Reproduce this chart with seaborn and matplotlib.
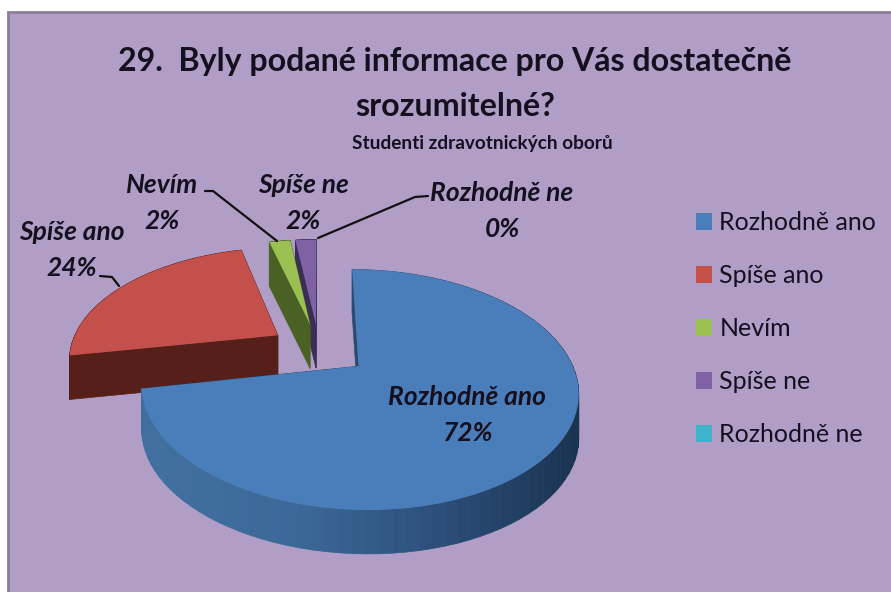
import numpy as np
import matplotlib
matplotlib.use("Agg")
import matplotlib.pyplot as plt
from matplotlib.collections import PolyCollection
from matplotlib.patches import Rectangle
from matplotlib.transforms import Transform
import seaborn as sns

# Chart data
categories = ["Rozhodně ano", "Spíše ano", "Nevím", "Spíše ne", "Rozhodně ne"]
values = [72, 24, 2, 2, 0]
title_text = "29.  Byly podané informace pro Vás dostatečně\nsrozumitelné?"
subtitle_text = "Studenti zdravotnických oborů"

top_colors = ["#4a7ebb", "#c4504c", "#9bc052", "#7f62a6", "#3eb3c9"]
side_colors = ["#2a4a70", "#571f1a", "#4a6125", "#3c2d55", "#1f5a66"]
draw_order = [3, 2, 1, 0, 4]

BG = "#b09ec6"
CX, CY, RX, RY, K, DEPTH = 319, 349, 208, 109, 0.19, 44

sns.set_theme(style="white")
plt.rcParams["font.family"] = ["Lato", "DejaVu Sans"]


def project(u, v):
    # tilted pie plane to pixels, with a little perspective
    w = 1 + K * v
    return CX + RX * u / w, CY - RY * v / w


class Tilt(Transform):
    input_dims = 2
    output_dims = 2
    is_separable = False
    has_inverse = False

    def transform_non_affine(self, values):
        x, y = project(values[:, 0], values[:, 1])
        return np.column_stack([x, y])


rim_cmap = sns.blend_palette(["#41709f", "#3b6898", "#2b4e78", "#19324f"], as_cmap=True)

fig = plt.figure(figsize=(8.91, 5.92), dpi=100, facecolor="white")
ax = fig.add_axes([0, 0, 1, 1])

wedges, _ = ax.pie(values, explode=[0.24] * len(values), startangle=90,
                   counterclock=False, colors=top_colors,
                   wedgeprops={"linewidth": 0})
ax.set_aspect("auto")
ax.set_xlim(0, 891)
ax.set_ylim(592, 0)
ax.axis("off")

# background panel
ax.add_patch(Rectangle((8, 12), 890, 590, facecolor=BG, edgecolor="#8b7e99",
                       linewidth=2, zorder=0))

tilt = Tilt() + ax.transData
for rank, i in enumerate(draw_order):
    wedge = wedges[i]
    wedge.set_transform(tilt)
    wedge.set_zorder(2 + 2 * rank + 1)
    if values[i] == 0:
        continue
    cu, cv = wedge.center
    th = np.radians(np.linspace(wedge.theta1, wedge.theta2, 90))
    x, y = project(cu + wedge.r * np.cos(th), cv + wedge.r * np.sin(th))
    ax0, ay0 = project(cu, cv)
    quads, cols = [], []
    # the two cut faces
    for px, py in [(x[0], y[0]), (x[-1], y[-1])]:
        quads.append([(ax0, ay0), (px, py), (px, py + DEPTH), (ax0, ay0 + DEPTH)])
        cols.append(side_colors[i])
    # outer rim
    for j in range(len(th) - 1):
        quads.append([(x[j], y[j]), (x[j + 1], y[j + 1]),
                      (x[j + 1], y[j + 1] + DEPTH), (x[j], y[j] + DEPTH)])
        if i == 0:
            cols.append(rim_cmap((x[j] - 148) / 432))
        else:
            cols.append(side_colors[i])
    order = np.argsort([np.mean([p[1] for p in q]) for q in quads])
    side = PolyCollection([quads[n] for n in order],
                          facecolors=[cols[n] for n in order],
                          edgecolors=[cols[n] for n in order],
                          linewidths=0.5, zorder=2 + 2 * rank)
    ax.add_collection(side)

# titles
text_col = "#14101f"
ax.text(455, 84, title_text, ha="center", va="center", fontsize=23.1,
        fontweight="bold", color=text_col, linespacing=1.68, zorder=30)
ax.text(482, 143, subtitle_text, ha="center", va="center", fontsize=13.7,
        fontweight="bold", color=text_col, zorder=30)

# data labels
label_pos = [(467, 415), (72, 250), (162, 203), (303, 203), (502, 211)]
for i, (lx, ly) in enumerate(label_pos):
    ax.text(lx, ly, f"{categories[i]}\n{values[i]}%", ha="center", va="center",
            fontsize=19, fontweight="bold", style="italic", color=text_col,
            linespacing=1.62, zorder=30)

# leader lines
leaders = [[(205, 191), (213, 191), (277, 241)],
           [(318, 238), (415, 197), (428, 196)],
           [(100, 276), (112, 277), (119, 286)]]
for pts in leaders:
    ax.plot(*zip(*pts), color="#111111", lw=1.6, zorder=31)

ax.legend(wedges, categories, loc="upper left", bbox_to_anchor=(696 / 891, 1 - 211 / 592),
          frameon=False, fontsize=18, handlelength=0.65, handleheight=0.65,
          handletextpad=0.28, labelspacing=1.2, labelcolor=text_col, borderpad=0,
          borderaxespad=0)

fig.savefig("out.png", dpi=100)
